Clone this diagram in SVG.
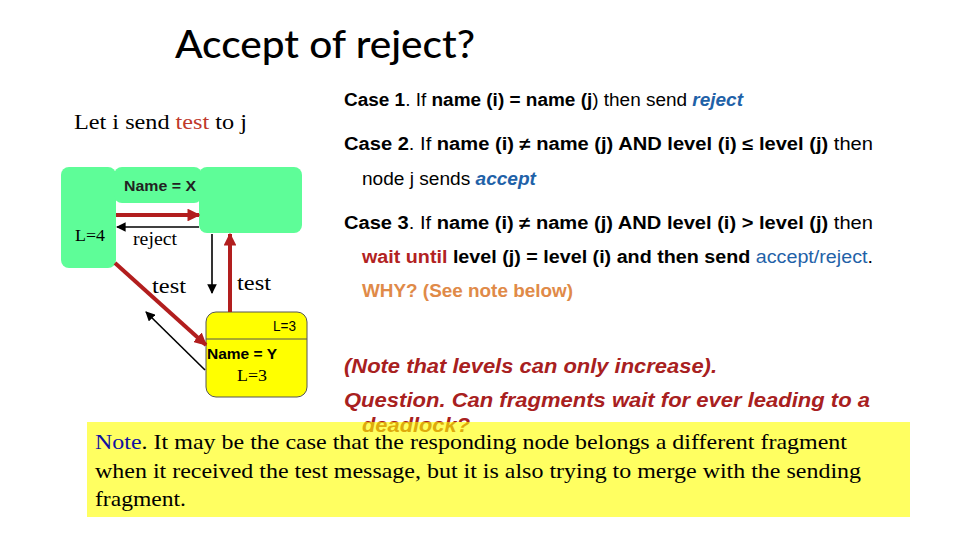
<svg xmlns="http://www.w3.org/2000/svg" width="960" height="540" viewBox="0 0 960 540">
<style>
.sans{font-family:"Liberation Sans",Arial,sans-serif}
.serif{font-family:"Liberation Serif","Times New Roman",serif}
.b{font-weight:bold}
.bi{font-weight:bold;font-style:italic}
.blue{fill:#1F62A8}
.green{fill:#5EFD98}
.red{stroke:#B21E1E;stroke-width:4;fill:none}
.blk{stroke:#000;stroke-width:1.6;fill:none}
</style>
<defs>
<marker id="ar" viewBox="0 0 10 10" refX="9" refY="5" markerWidth="3.2" markerHeight="3.2" orient="auto" markerUnits="strokeWidth"><path d="M0,0 L10,5 L0,10 z" fill="#B21E1E"/></marker>
<marker id="ab" viewBox="0 0 10 10" refX="9" refY="5" markerWidth="6" markerHeight="6" orient="auto" markerUnits="strokeWidth"><path d="M0,0 L10,5 L0,10 z" fill="#000"/></marker>
</defs>
<rect width="960" height="540" fill="#fff"/>
<text x="175" y="58" font-family="Lato,'Open Sans',sans-serif" font-size="38" font-weight="500" textLength="300" lengthAdjust="spacingAndGlyphs">Accept of reject?</text>
<text x="74" y="129" class="serif" font-size="21" textLength="173" lengthAdjust="spacingAndGlyphs">Let i send <tspan fill="#C0392B">test</tspan> to j</text>

<g id="fragment-x-left"><rect x="61" y="167" width="55" height="101" rx="8" class="green"/><text x="75" y="241" class="serif" font-size="17" textLength="30" lengthAdjust="spacingAndGlyphs">L=4</text></g>
<g id="fragment-x-top"><rect x="114" y="167" width="88" height="36" rx="8" class="green"/><text x="124" y="191" class="sans b" font-size="14" fill="#222" textLength="72" lengthAdjust="spacingAndGlyphs">Name = X</text></g>
<g id="fragment-x-right"><rect x="199" y="167" width="103" height="66" rx="8" class="green"/></g>
<g id="fragment-y"><rect x="206" y="312" width="101" height="85" rx="10" fill="#FFFF00" stroke="#555" stroke-width="1"/><line x1="206" y1="339" x2="307" y2="339" stroke="#555" stroke-width="1"/><text x="273" y="331" class="sans" font-size="14" textLength="23" lengthAdjust="spacingAndGlyphs">L=3</text><text x="207" y="359" class="sans b" font-size="14" textLength="70" lengthAdjust="spacingAndGlyphs">Name = Y</text><text x="237" y="381" class="serif" font-size="17" textLength="30" lengthAdjust="spacingAndGlyphs">L=3</text></g>

<g id="connectors">
<line x1="116" y1="215" x2="199" y2="215" class="red" marker-end="url(#ar)"/>
<line x1="199" y1="227" x2="117" y2="227" class="blk" marker-end="url(#ab)"/>
<line x1="115" y1="263" x2="206" y2="345" class="red" marker-end="url(#ar)"/>
<line x1="205" y1="370" x2="146" y2="312" class="blk" marker-end="url(#ab)"/>
<line x1="212" y1="234" x2="212" y2="293" class="blk" marker-end="url(#ab)"/>
<line x1="230" y1="312" x2="230" y2="234" class="red" marker-end="url(#ar)"/>
</g>
<text x="133" y="245" class="serif" font-size="18" textLength="44" lengthAdjust="spacingAndGlyphs">reject</text>
<text x="152" y="293" class="serif" font-size="21" textLength="34" lengthAdjust="spacingAndGlyphs">test</text>
<text x="237" y="290" class="serif" font-size="21" textLength="34" lengthAdjust="spacingAndGlyphs">test</text>

<g class="sans" font-size="17.5">
<text x="344" y="106" textLength="399" lengthAdjust="spacingAndGlyphs"><tspan class="b">Case 1</tspan>. If <tspan class="b">name (i) = name (j</tspan>) then send <tspan class="bi blue">reject</tspan></text>
<text x="344" y="150" textLength="529" lengthAdjust="spacingAndGlyphs"><tspan class="b">Case 2</tspan>. If <tspan class="b">name (i) ≠ name (j) AND level (i) ≤ level (j)</tspan> then</text>
<text x="362" y="185" textLength="174" lengthAdjust="spacingAndGlyphs">node j sends <tspan class="bi blue">accept</tspan></text>
<text x="344" y="229" textLength="529" lengthAdjust="spacingAndGlyphs"><tspan class="b">Case 3</tspan>. If <tspan class="b">name (i) ≠ name (j) AND level (i) &gt; level (j)</tspan> then</text>
<text x="362" y="263" textLength="511" lengthAdjust="spacingAndGlyphs"><tspan class="b" fill="#B22222">wait until</tspan> <tspan class="b">level (j) = level (i) and then send</tspan> <tspan class="blue">accept/reject</tspan>.</text>
<text x="362" y="297" class="b" fill="#E08A48" textLength="211" lengthAdjust="spacingAndGlyphs">WHY? (See note below)</text>
</g>
<g class="sans bi" font-size="20" fill="#A82020">
<text x="344" y="373" textLength="373" lengthAdjust="spacingAndGlyphs">(Note that levels can only increase).</text>
<text x="344" y="407" textLength="526" lengthAdjust="spacingAndGlyphs">Question. Can fragments wait for ever leading to a</text>
<text x="362" y="432" textLength="108" lengthAdjust="spacingAndGlyphs">deadlock?</text>
</g>
<rect x="87" y="422" width="823" height="95" fill="#FFFF00" fill-opacity="0.62"/>
<g class="serif" font-size="22">
<text x="95" y="449" textLength="752" lengthAdjust="spacingAndGlyphs"><tspan fill="#1010A0">Note</tspan>. It may be the case that the responding node belongs a different fragment</text>
<text x="95" y="478" textLength="766" lengthAdjust="spacingAndGlyphs">when it received the test message, but it is also trying to merge with the sending</text>
<text x="95" y="506" textLength="91" lengthAdjust="spacingAndGlyphs">fragment.</text>
</g>
</svg>
